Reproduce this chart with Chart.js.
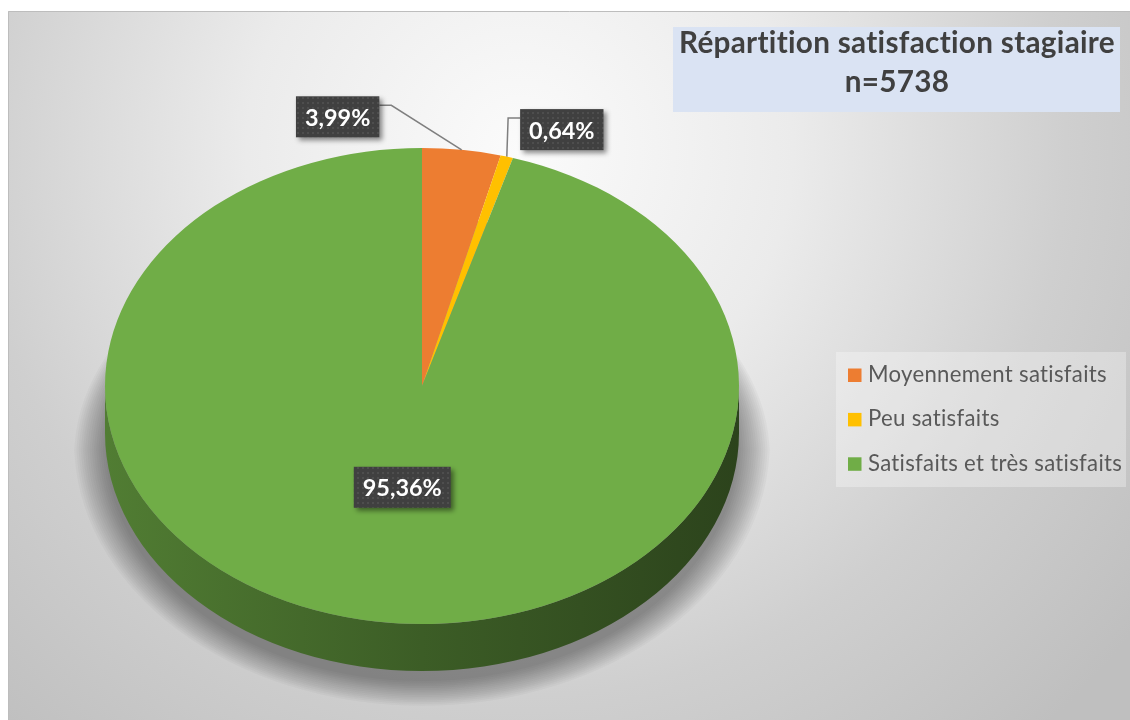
<!DOCTYPE html>
<html><head><meta charset="utf-8">
<script src="https://cdn.jsdelivr.net/npm/chart.js@4.4.1/dist/chart.umd.min.js"></script>
<style>html,body{margin:0;padding:0;background:#fff;overflow:hidden}canvas{display:block}</style>
</head><body>
<canvas id="c" width="1130" height="720"></canvas>
<script>
// ---- data ----
const categories = ['Moyennement satisfaits', 'Peu satisfaits', 'Satisfaits et très satisfaits'];
const values = [3.99, 0.64, 95.36];
const sliceColors = ['#ED7D31', '#FFC000', '#70AD47'];
const titleLines = ['Répartition satisfaction stagiaire', 'n=5738'];

// ---- layout / style ----
const W = 1130, H = 720;
const FONT = 'Lato, "Open Sans", sans-serif';
const FRAME = {x: 8, y: 11};
const PIE = {cx: 422, cy: 386, r: 317, tilt: 0.751, depth: 47};
const labelLayout = [
  {place: 'outside', dx: -124, dy: -33},
  {place: 'outside', dx: 55, dy: -27},
  {place: 'inside', frac: 0.43}
];

function fmt(v){ return v.toFixed(2).replace('.', ',') + '%'; }
function shade(hex, f){
  const n = parseInt(hex.slice(1), 16);
  return `rgb(${Math.round(((n>>16)&255)*f)},${Math.round(((n>>8)&255)*f)},${Math.round((n&255)*f)})`;
}
function setSpacing(ctx, v){ if ('letterSpacing' in ctx) ctx.letterSpacing = v; }
function fitSize(ctx, text, weight, targetW){
  ctx.font = `${weight} 100px ${FONT}`;
  return 100 * targetW / ctx.measureText(text).width;
}

let pattern = null;
function getPattern(ctx){
  if (pattern) return pattern;
  const pc = document.createElement('canvas'); pc.width = 5; pc.height = 5;
  const p = pc.getContext('2d');
  p.fillStyle = '#404040'; p.fillRect(0,0,5,5);
  p.fillStyle = '#4e4e4e'; p.fillRect(2,2,2,2);
  pattern = ctx.createPattern(pc, 'repeat');
  return pattern;
}

const bgPlugin = {
  id: 'bg',
  beforeDraw(chart){
    const ctx = chart.ctx;
    ctx.save();
    ctx.fillStyle = '#fff'; ctx.fillRect(0,0,W,H);
    const g = ctx.createRadialGradient(520,150,0,520,150,780);
    g.addColorStop(0, '#fbfbfb');
    g.addColorStop(0.35, '#ebebeb');
    g.addColorStop(0.7, '#cfcfcf');
    g.addColorStop(1, '#bfbfbf');
    ctx.fillStyle = g;
    ctx.fillRect(FRAME.x, FRAME.y, W-FRAME.x, H-FRAME.y);
    ctx.strokeStyle = '#bdbdbd'; ctx.lineWidth = 1;
    ctx.beginPath(); ctx.moveTo(FRAME.x+0.5, H); ctx.lineTo(FRAME.x+0.5, FRAME.y+0.5); ctx.lineTo(W, FRAME.y+0.5); ctx.stroke();
    ctx.restore();
  },
  afterDraw(chart){
    const ctx = chart.ctx;
    ctx.save();
    setSpacing(ctx, '0.3px');
    ctx.fillStyle = '#dae3f3';
    ctx.fillRect(673, 27, 447, 85);
    const ts = fitSize(ctx, titleLines[0], 'bold', 429);
    ctx.font = `bold ${ts}px ${FONT}`;
    ctx.fillStyle = '#404040'; ctx.textAlign = 'center'; ctx.textBaseline = 'alphabetic';
    ctx.fillText(titleLines[0], 897, 53);
    ctx.fillText(titleLines[1], 897, 92);
    ctx.fillStyle = 'rgba(255,255,255,0.3)';
    ctx.fillRect(836, 352, 290, 135);
    const ls = fitSize(ctx, categories[0], 'normal', 234);
    ctx.font = `normal ${ls}px ${FONT}`;
    ctx.textAlign = 'left';
    const colors = chart.data.datasets[0].backgroundColor;
    chart.data.labels.forEach((lab, i) => {
      const base = 382 + i*44.4;
      ctx.fillStyle = colors[i];
      ctx.fillRect(848, base-13.5, 13.5, 13.5);
      ctx.fillStyle = '#595959';
      ctx.fillText(lab, 868, base);
    });
    ctx.restore();
  }
};

const tiltPlugin = {
  id: 'tilt',
  beforeDatasetsDraw(chart){
    const ctx = chart.ctx;
    const arcs = chart.getDatasetMeta(0).data;
    const {x, y, outerRadius: R} = arcs[0].getProps(['x','y','outerRadius'], true);
    const ry = R*PIE.tilt, d = PIE.depth;
    // soft floor shadow, built from layered translucent ellipses
    ctx.save();
    const steps = 14;
    for (let k = steps; k >= 0; k--) {
      const e = k * 2.2;
      ctx.fillStyle = 'rgba(0,0,0,0.028)';
      ctx.beginPath();
      ctx.ellipse(x, y + d + 10, R + e, ry + e*0.8, 0, 0, Math.PI);
      ctx.ellipse(x, y + 70, R + e, ry, 0, Math.PI, 2*Math.PI);
      ctx.closePath(); ctx.fill();
    }
    ctx.restore();
    // sides
    arcs.forEach(arc => {
      const p = arc.getProps(['startAngle','endAngle'], true);
      const a1 = Math.max(p.startAngle, 0), a2 = Math.min(p.endAngle, Math.PI);
      if (a2 <= a1) return;
      const base = arc.options.backgroundColor;
      const g = ctx.createLinearGradient(x-R, 0, x+R, 0);
      g.addColorStop(0, shade(base, 0.72));
      g.addColorStop(0.5, shade(base, 0.54));
      g.addColorStop(1, shade(base, 0.39));
      ctx.beginPath();
      ctx.ellipse(x, y, R, ry, 0, a1, a2);
      ctx.ellipse(x, y+d, R, ry, 0, a2, a1, true);
      ctx.closePath();
      ctx.fillStyle = g; ctx.fill();
    });
    ctx.save();
    ctx.translate(x, y); ctx.scale(1, PIE.tilt); ctx.translate(-x, -y);
  },
  afterDatasetsDraw(chart){
    const ctx = chart.ctx;
    ctx.restore();
    const arcs = chart.getDatasetMeta(0).data;
    const fs = fitSize(ctx, fmt(values[2]), 'bold', 79);
    ctx.save();
    arcs.forEach((arc, i) => {
      const p = arc.getProps(['x','y','startAngle','endAngle','outerRadius'], true);
      const mid = (p.startAngle + p.endAngle)/2;
      const text = fmt(chart.data.datasets[0].data[i]);
      ctx.font = `bold ${fs}px ${FONT}`;
      const tw = ctx.measureText(text).width;
      const bw = tw + 18, bh = 41;
      const L = labelLayout[i];
      let bx, by;
      if (L.place === 'inside') {
        const rr = p.outerRadius * L.frac;
        bx = p.x + rr*Math.cos(mid); by = p.y + rr*Math.sin(mid)*PIE.tilt;
      } else {
        const rx = p.x + p.outerRadius*Math.cos(mid);
        const ryy = p.y + p.outerRadius*Math.sin(mid)*PIE.tilt;
        bx = rx + L.dx; by = ryy + L.dy;
        const left = L.dx < 0;
        const edgeX = left ? bx + bw/2 : bx - bw/2;
        const elbowX = left ? edgeX + 12 : edgeX - 12;
        const ly = by - bh/2 + 9;
        ctx.strokeStyle = '#7f7f7f'; ctx.lineWidth = 1.5;
        ctx.beginPath(); ctx.moveTo(edgeX, ly); ctx.lineTo(elbowX, ly); ctx.lineTo(rx, ryy); ctx.stroke();
      }
      ctx.save();
      ctx.shadowColor = 'rgba(0,0,0,0.45)'; ctx.shadowBlur = 5; ctx.shadowOffsetX = 3; ctx.shadowOffsetY = 3;
      ctx.fillStyle = getPattern(ctx);
      ctx.fillRect(bx - bw/2, by - bh/2, bw, bh);
      ctx.restore();
      ctx.fillStyle = '#ffffff'; ctx.textAlign = 'center'; ctx.textBaseline = 'alphabetic';
      ctx.fillText(text, bx, by + 9);
    });
    ctx.restore();
  }
};

new Chart(document.getElementById('c'), {
  type: 'pie',
  data: {
    labels: categories,
    datasets: [{
      data: values,
      backgroundColor: sliceColors,
      borderWidth: 0,
      hoverOffset: 0,
      clip: false
    }]
  },
  options: {
    responsive: false,
    animation: false,
    events: [],
    layout: {padding: {
      left: PIE.cx - PIE.r,
      right: W - (PIE.cx + PIE.r),
      top: PIE.cy - PIE.r,
      bottom: H - (PIE.cy + PIE.r)
    }},
    plugins: {legend: {display: false}, tooltip: {enabled: false}, title: {display: false}}
  },
  plugins: [bgPlugin, tiltPlugin]
});
</script>
</body></html>
